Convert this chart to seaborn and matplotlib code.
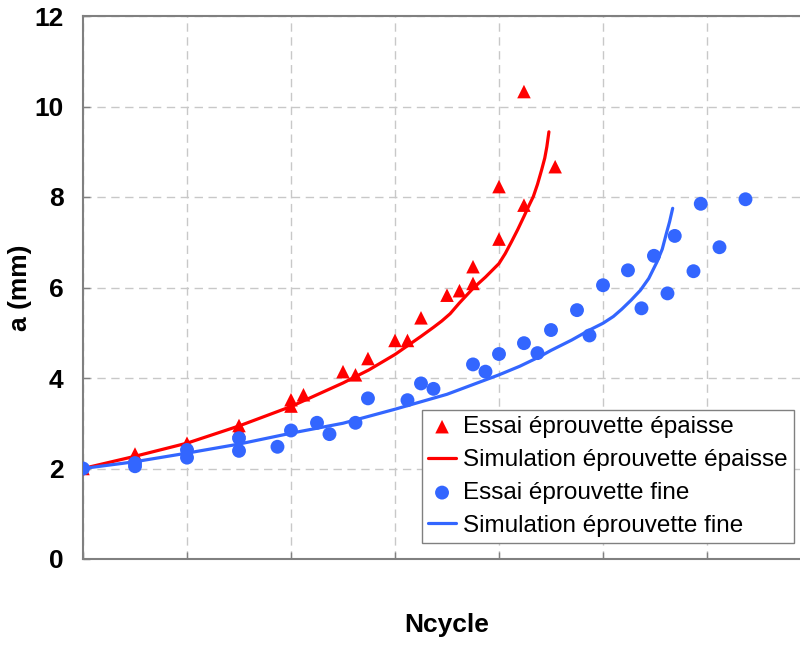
import pandas as pd
import seaborn as sns
import matplotlib.pyplot as plt

sns.set_theme(style='white')
plt.rcParams['font.family'] = ['Liberation Sans', 'DejaVu Sans']

# essai eprouvette epaisse (triangles)
epaisse_x = [0, 0.5, 1.0, 1.5, 1.5, 2.0, 2.0, 2.12, 2.5, 2.62, 2.74, 3.0, 3.12, 3.25,
             3.5, 3.62, 3.75, 3.75, 4.0, 4.0, 4.24, 4.24, 4.54]
epaisse_y = [2.0, 2.32, 2.56, 2.95, 2.85, 3.52, 3.38, 3.63, 4.14, 4.07, 4.43, 4.83, 4.83, 5.33,
             5.83, 5.93, 6.09, 6.46, 7.07, 8.23, 7.82, 10.33, 8.67]

# simulation eprouvette epaisse
sim_epaisse_x = [0, 0.5, 1.0, 1.5, 2.0, 2.5, 2.75, 3.0, 3.25, 3.37, 3.45, 3.53, 3.62, 3.75, 3.87, 4.0,
                 4.06, 4.12, 4.18, 4.24, 4.29, 4.33, 4.37, 4.41, 4.44, 4.46, 4.48]
sim_epaisse_y = [2.0, 2.27, 2.56, 2.94, 3.37, 3.89, 4.18, 4.52, 4.92, 5.12, 5.26, 5.42, 5.66, 5.98, 6.23, 6.53,
                 6.75, 7.01, 7.28, 7.57, 7.82, 8.01, 8.28, 8.6, 8.86, 9.11, 9.44]

# essai eprouvette fine (ronds)
fine_x = [0, 0.5, 0.5, 1.0, 1.0, 1.5, 1.5, 1.87, 2.0, 2.25, 2.37, 2.62, 2.74, 3.12, 3.25, 3.37,
          3.75, 3.87, 4.0, 4.24, 4.37, 4.5, 4.75, 4.87, 5.0, 5.24, 5.37, 5.49, 5.62, 5.69,
          5.87, 5.94, 6.12, 6.37]
fine_y = [2.0, 2.12, 2.05, 2.41, 2.24, 2.67, 2.39, 2.48, 2.84, 3.01, 2.76, 3.01, 3.55, 3.51, 3.88, 3.76,
          4.30, 4.14, 4.53, 4.77, 4.55, 5.06, 5.50, 4.94, 6.05, 6.38, 5.54, 6.70, 5.87, 7.14,
          6.36, 7.85, 6.89, 7.95]

# simulation eprouvette fine
sim_fine_x = [0, 0.5, 1.0, 1.5, 2.0, 2.5, 3.0, 3.5, 4.0, 4.2, 4.39, 4.5, 4.7, 4.87, 5.0, 5.1,
              5.18, 5.27, 5.36, 5.44, 5.52, 5.57, 5.61, 5.64, 5.67]
sim_fine_y = [2.0, 2.15, 2.34, 2.54, 2.78, 3.0, 3.31, 3.64, 4.07, 4.26, 4.47, 4.61, 4.84, 5.06, 5.21, 5.36,
              5.52, 5.72, 5.94, 6.2, 6.57, 6.85, 7.2, 7.45, 7.75]

red = '#ff0000'
blue = '#3366ff'
gray = '#808080'

fig = plt.figure(figsize=(8, 6.45), dpi=100)
ax = fig.add_axes([83 / 800, 86 / 645, 728 / 800, 543 / 645])

sns.scatterplot(x=epaisse_x, y=epaisse_y, marker='^', s=95, color=red, edgecolor='none',
                linewidth=0, label='Essai éprouvette épaisse', ax=ax, zorder=3)
sns.lineplot(x=sim_epaisse_x, y=sim_epaisse_y, color=red, lw=2.3, sort=False, estimator=None,
             label='Simulation éprouvette épaisse', ax=ax, zorder=3)
sns.scatterplot(x=fine_x, y=fine_y, marker='o', s=100, color=blue, edgecolor='none',
                linewidth=0, label='Essai éprouvette fine', ax=ax, zorder=3)
sns.lineplot(x=sim_fine_x, y=sim_fine_y, color=blue, lw=2.3, sort=False, estimator=None,
             label='Simulation éprouvette fine', ax=ax, zorder=3)

ax.set_xlim(0, 7)
ax.set_ylim(0, 12)
ax.set_xticks(range(0, 8))
ax.set_xticklabels([])
yt = list(range(0, 13, 2))
ax.set_yticks(yt, labels=[str(v) for v in yt], fontweight='bold', fontsize=19)
ax.grid(True, color='#c8c8c8', linestyle=(0, (6, 4)), lw=1)
ax.tick_params(axis='x', direction='in', length=5, color=gray, width=1, bottom=True)
ax.tick_params(axis='y', direction='in', length=5, color=gray, width=1, left=True, pad=14,
               labelcolor='black')

for side in ['left', 'top', 'bottom']:
    ax.spines[side].set_color(gray)
    ax.spines[side].set_linewidth(1.5)
ax.spines['right'].set_visible(False)

ax.set_xlabel('Ncycle', fontsize=19, fontweight='bold', color='black')
ax.xaxis.set_label_coords(0.5, -0.1215)
ax.xaxis.label.set_va('center')
ax.set_ylabel('a (mm)', fontsize=19, fontweight='bold', color='black')
ax.yaxis.set_label_coords(-0.0865, 0.5)
ax.yaxis.label.set_va('center')

leg = ax.legend(loc='lower right', bbox_to_anchor=(794 / 800, 102 / 645),
                bbox_transform=fig.transFigure, frameon=True, fancybox=False,
                edgecolor=gray, framealpha=1, fontsize=17.5, borderpad=0.25,
                labelspacing=0.45, handlelength=1.15, handletextpad=0.3, borderaxespad=0)
leg.get_frame().set_linewidth(1)
for t in leg.get_texts():
    t.set_color('black')

plt.savefig('out.png', dpi=100)
